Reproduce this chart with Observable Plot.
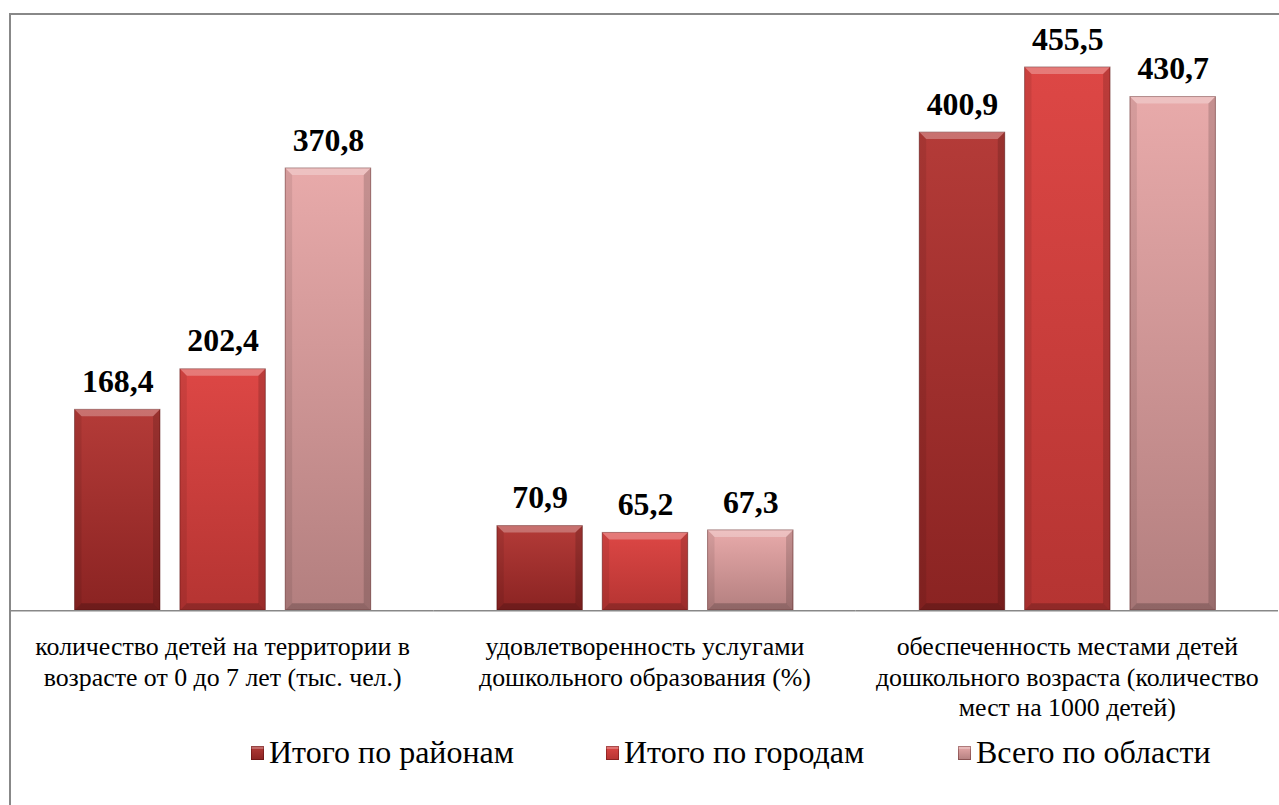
<!DOCTYPE html>
<html>
<head>
<meta charset="utf-8">
<script src="https://cdn.jsdelivr.net/npm/d3@7"></script>
<script src="https://cdn.jsdelivr.net/npm/@observablehq/plot@0.6"></script>
<style>
  html, body { margin: 0; padding: 0; background: #fff; }
  body { width: 1279px; height: 805px; overflow: hidden; position: relative; font-family: "Liberation Serif", serif; }
  #frame { position: absolute; left: 9px; top: 13px; width: 1400px; height: 900px;
           border-left: 2px solid #888; border-top: 2px solid #888; }
  #chart { position: absolute; left: 0; top: 0; }
  #legend { position: absolute; left: 0; top: 736px; width: 1279px; height: 44px; }
  .item { position: absolute; top: 0; display: flex; align-items: flex-start; font-size: 32px; line-height: 1; color: #000; white-space: nowrap; }
  .sw { width: 13px; height: 14px; margin-top: 10px; margin-right: 5px; box-sizing: border-box;
        box-shadow: inset 0 0 0 1px rgba(60,0,0,0.35), inset 0 3px 0 rgba(255,255,255,0.25); }
</style>
</head>
<body>
<div id="frame"></div>
<div id="chart"></div>
<div id="legend"></div>
<script>
// ---- data ----
const categories = [
  "количество детей на территории в\nвозрасте от 0 до 7 лет (тыс. чел.)",
  "удовлетворенность услугами\nдошкольного образования (%)",
  "обеспеченность местами детей\nдошкольного возраста (количество\nмест на 1000 детей)"
];
const series = ["Итого по районам", "Итого по городам", "Всего по области"];
const raiony = [168.4, 70.9, 400.9];
const goroda = [202.4, 65.2, 455.5];
const oblast = [370.8, 67.3, 430.7];
const seriesValues = [raiony, goroda, oblast];
const gradTop = ["#b43b38", "#dd4745", "#e8aaaa"];
const gradBottom = ["#8a2322", "#b53432", "#b37f7f"];
const legendLeft = [251, 606, 958];
const FONT = "Liberation Serif";

const data = categories.flatMap((c, i) =>
  series.map((s, j) => ({ category: c, series: s, value: seriesValues[j][i] })));

const fmt = v => v.toFixed(1).replace(".", ",");

const chart = Plot.plot({
  width: 1287,
  height: 730,
  marginLeft: 10,
  marginRight: 0,
  marginTop: 14,
  marginBottom: 116,
  style: { background: "transparent", overflow: "visible" },
  fx: { domain: categories, padding: 0, axis: null },
  x: { domain: series, paddingInner: 0.1925, paddingOuter: 0.595, axis: null },
  y: { domain: [0, 500], axis: null },
  color: { domain: series, range: series.map((s, j) => `url(#g${j})`) },
  marks: [
    Plot.barY(data, { fx: "category", x: "series", y: "value", fill: "series" }),
    Plot.ruleY([0], { stroke: "#888", strokeWidth: 1.6 }),
    Plot.text(data, { fx: "category", x: "series", y: "value", text: d => fmt(d.value),
      lineAnchor: "bottom", dy: -18, fontSize: 32, fontWeight: "bold", fill: "#000", fontFamily: FONT }),
    Plot.text(categories, { fx: d => d, text: d => d, frameAnchor: "bottom",
      lineAnchor: "top", dy: 23.5, fontSize: 26, lineHeight: 1.17, fill: "#000", fontFamily: FONT })
  ]
});

// gradients
const ns = "http://www.w3.org/2000/svg";
const defs = document.createElementNS(ns, "defs");
series.forEach((s, j) => {
  const lg = document.createElementNS(ns, "linearGradient");
  lg.setAttribute("id", `g${j}`);
  lg.setAttribute("x1", "0"); lg.setAttribute("y1", "0");
  lg.setAttribute("x2", "0"); lg.setAttribute("y2", "1");
  [[0, gradTop[j]], [1, gradBottom[j]]].forEach(([o, c]) => {
    const st = document.createElementNS(ns, "stop");
    st.setAttribute("offset", o); st.setAttribute("stop-color", c);
    lg.appendChild(st);
  });
  defs.appendChild(lg);
});
chart.insertBefore(defs, chart.firstChild);

// bevel effect on the bars drawn by Plot
chart.querySelectorAll('g[aria-label="bar"] rect').forEach(r => {
  const x = +r.getAttribute("x"), y = +r.getAttribute("y");
  const w = +r.getAttribute("width"), h = +r.getAttribute("height");
  const b = Math.min(7, h / 3);
  r.setAttribute("stroke", "rgba(70,0,0,0.45)");
  r.setAttribute("stroke-width", "1");
  const parent = r.parentNode;
  const add = (pts, fill, op) => {
    const p = document.createElementNS(ns, "polygon");
    p.setAttribute("points", pts.map(q => q.join(",")).join(" "));
    p.setAttribute("fill", fill); p.setAttribute("fill-opacity", op);
    parent.appendChild(p);
  };
  add([[x, y], [x + w, y], [x + w - b, y + b], [x + b, y + b]], "#fff", 0.28);
  add([[x, y], [x + b, y + b], [x + b, y + h - b], [x, y + h]], "#000", 0.08);
  add([[x + w, y], [x + w - b, y + b], [x + w - b, y + h - b], [x + w, y + h]], "#000", 0.15);
  add([[x, y + h], [x + b, y + h - b], [x + w - b, y + h - b], [x + w, y + h]], "#000", 0.2);
});

document.getElementById("chart").appendChild(chart);

// legend
const legend = document.getElementById("legend");
series.forEach((s, j) => {
  const it = document.createElement("div");
  it.className = "item";
  it.style.left = legendLeft[j] + "px";
  it.style.fontFamily = `"${FONT}", serif`;
  const sw = document.createElement("span");
  sw.className = "sw";
  sw.style.background = `linear-gradient(${gradTop[j]}, ${gradBottom[j]})`;
  const t = document.createElement("span");
  t.textContent = s;
  it.appendChild(sw); it.appendChild(t);
  legend.appendChild(it);
});
</script>
</body>
</html>
